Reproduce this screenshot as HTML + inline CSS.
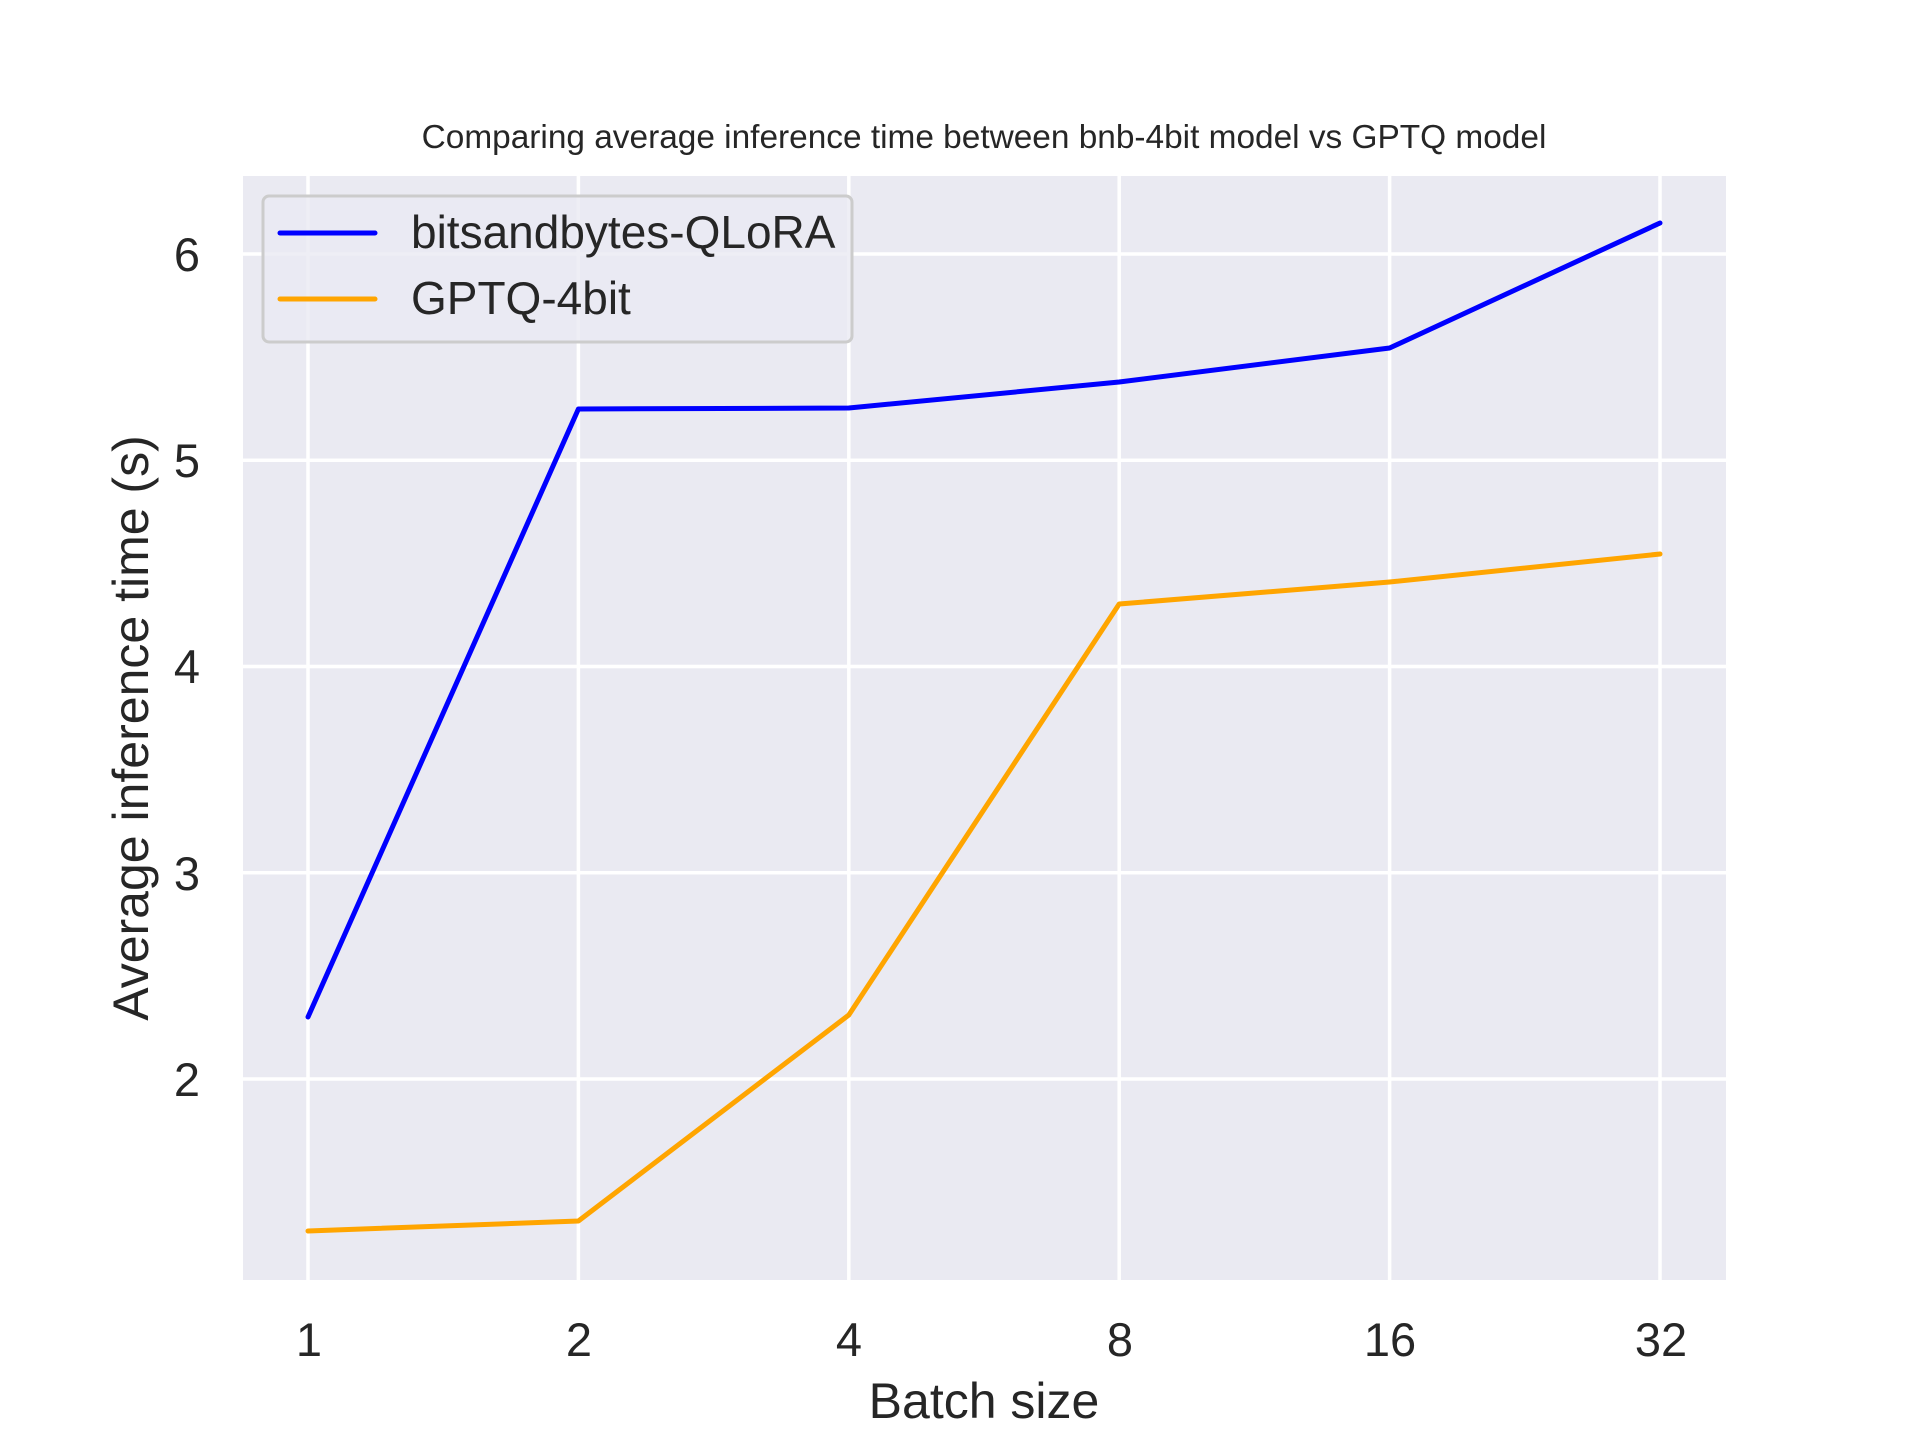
<!DOCTYPE html>
<html><head><style>body{margin:0;background:#fff}</style></head><body>
<svg width="1920" height="1440" xmlns="http://www.w3.org/2000/svg" font-family="Liberation Sans, Arial, sans-serif">
<rect width="1920" height="1440" fill="#fff"/>
<rect x="243" y="176" width="1483" height="1104" fill="#eaeaf2"/>
<g stroke="#fff" stroke-width="3.5">
<line x1="308" y1="176" x2="308" y2="1280"/>
<line x1="578.4" y1="176" x2="578.4" y2="1280"/>
<line x1="848.8" y1="176" x2="848.8" y2="1280"/>
<line x1="1119.2" y1="176" x2="1119.2" y2="1280"/>
<line x1="1389.6" y1="176" x2="1389.6" y2="1280"/>
<line x1="1660" y1="176" x2="1660" y2="1280"/>
<line x1="243" y1="1079" x2="1726" y2="1079"/>
<line x1="243" y1="872.75" x2="1726" y2="872.75"/>
<line x1="243" y1="666.5" x2="1726" y2="666.5"/>
<line x1="243" y1="460.25" x2="1726" y2="460.25"/>
<line x1="243" y1="254" x2="1726" y2="254"/>
</g>
<polyline fill="none" stroke="#0000ff" stroke-width="5" stroke-linejoin="round" stroke-linecap="round" points="308,1017 578.4,409 848.8,408 1119.2,382 1389.6,348 1660,223"/>
<polyline fill="none" stroke="#ffa500" stroke-width="5" stroke-linejoin="round" stroke-linecap="round" points="308,1231 578.4,1221 848.8,1015 1119.2,604 1389.6,582 1660,554"/>
<rect x="263" y="196" width="589" height="146" rx="6" fill="#eaeaf2" fill-opacity="0.8" stroke="#cccccc" stroke-width="3"/>
<line x1="280" y1="233" x2="375" y2="233" stroke="#0000ff" stroke-width="5" stroke-linecap="round"/>
<line x1="280" y1="299" x2="375" y2="299" stroke="#ffa500" stroke-width="5" stroke-linecap="round"/>
<g fill="#262626" font-size="46">
<text x="411" y="248">bitsandbytes-QLoRA</text>
<text x="411" y="314">GPTQ-4bit</text>
</g>
<g fill="#262626" font-size="47" text-anchor="middle">
<text x="309" y="1356">1</text>
<text x="579" y="1356">2</text>
<text x="849" y="1356">4</text>
<text x="1120" y="1356">8</text>
<text x="1390" y="1356">16</text>
<text x="1661" y="1356">32</text>
</g>
<g fill="#262626" font-size="47" text-anchor="end">
<text x="200" y="1096">2</text>
<text x="200" y="890">3</text>
<text x="200" y="683">4</text>
<text x="200" y="477">5</text>
<text x="200" y="271">6</text>
</g>
<text x="984" y="1418" fill="#262626" font-size="50" text-anchor="middle">Batch size</text>
<text transform="translate(148,728) rotate(-90)" fill="#262626" font-size="50" text-anchor="middle">Average inference time (s)</text>
<text x="984" y="148" fill="#262626" font-size="33.4" text-anchor="middle">Comparing average inference time between bnb-4bit model vs GPTQ model</text>
</svg>
</body></html>
